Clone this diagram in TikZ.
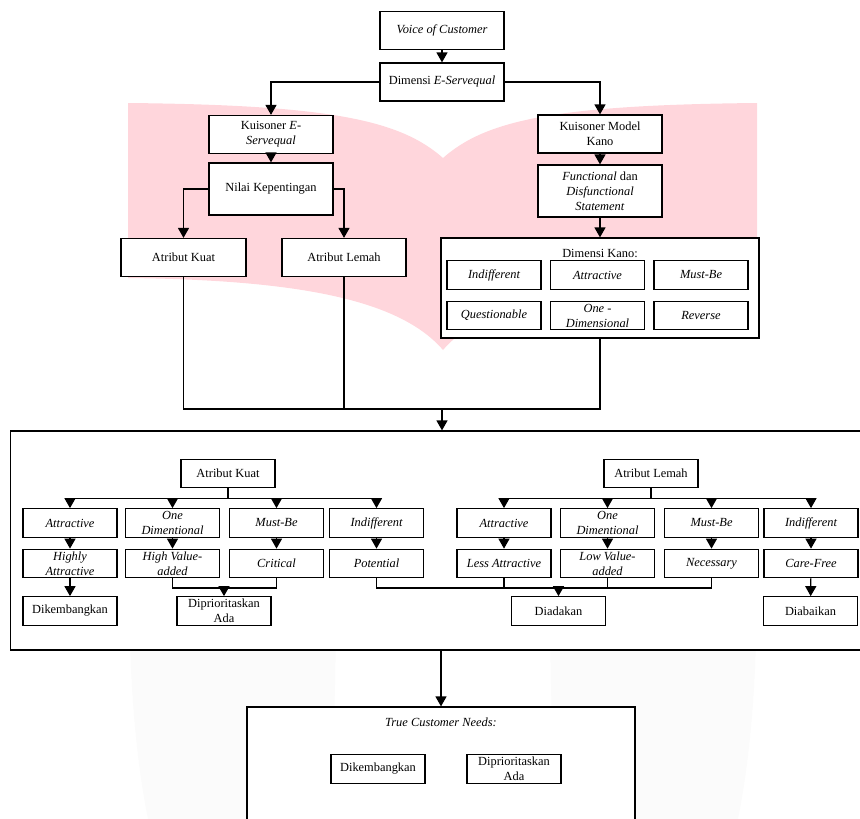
\documentclass[tikz,border=0pt]{standalone}
\usepackage{fontspec}
\setmainfont{Liberation Serif}
\usetikzlibrary{arrows.meta}
\definecolor{logopink}{RGB}{255,214,220}

\begin{document}
\begin{tikzpicture}[x=1pt,y=-1pt,
  txt/.style={font=\fontsize{12.4}{15}\selectfont},
  box/.style={draw,line width=1.2pt,fill=white,inner sep=0pt,align=center,
    font=\fontsize{12.4}{15}\selectfont,minimum width=124pt,minimum height=38pt},
  ibox/.style={box,font=\fontsize{12.4}{15}\selectfont\itshape},
  sbox/.style={box,minimum width=94pt,minimum height=28.5pt},
  sibox/.style={sbox,font=\fontsize{12.4}{15}\selectfont\itshape},
  frame/.style={draw,line width=1.2pt,fill=white,inner sep=0pt},
  arr/.style={line width=1.3pt,-{Triangle[width=11pt,length=10pt]}},
  ln/.style={line width=1.3pt}]
  \useasboundingbox (0,0) rectangle (860,819);

  % watermark behind the chart
  \fill[logopink] (128,103) .. controls (330,105) and (400,120) .. (443,158)
    .. controls (486,120) and (556,105) .. (757,103) -- (757,278)
    .. controls (586,280) and (486,300) .. (443,350)
    .. controls (400,300) and (300,280) .. (128,278) -- cycle;
  \fill[black!1.5] (130,640) .. controls (132,720) and (140,780) .. (148,819)
    -- (332,819) -- (336,640) -- cycle;
  \fill[black!1.5] (756,640) .. controls (754,720) and (746,780) .. (738,819)
    -- (554,819) -- (550,640) -- cycle;

  % upper part
  \node[ibox] (voc) at (442,30.5) {Voice of Customer};
  \node[box] (dim) at (442,82) {Dimensi \textit{E-Servequal}};
  \node[box] (kes) at (271,134.5) {Kuisoner \textit{E-}\\\textit{Servequal}};
  \node[box,minimum height=52pt] (nilai) at (271,189) {Nilai Kepentingan};
  \node[box,minimum width=125pt] (kuat) at (183.5,257.5) {Atribut Kuat};
  \node[box] (lemah) at (344,257.5) {Atribut Lemah};
  \node[box] (kano) at (600,134) {Kuisoner Model\\Kano};
  \node[box,minimum height=52pt] (fds) at (600,191)
    {\textit{Functional} dan\\\textit{Disfunctional}\\\textit{Statement}};
  \node[frame,minimum width=318pt,minimum height=100pt] (dkano) at (600,288) {};
  \node[txt] (dktitle) at (600,253) {Dimensi Kano:};
  \foreach \n/\x/\a/\b in {1/494/Indifferent/Questionable,
      2/597.5/Attractive/{One -\\Dimensional}, 3/701/Must-Be/Reverse} {
    \node[sibox] (dk\n) at (\x,275) {\a};
    \node[sibox] (dq\n) at (\x,315.5) {\b};
  }

  \draw[arr] (voc) -- (dim);
  \draw[arr] (dim.west) -| (kes.north);
  \draw[arr] (dim.east) -| (kano.north);
  \draw[arr] (kes) -- (nilai);
  \draw[arr] (nilai.west) -| (kuat.north);
  \draw[arr] (nilai.east) -| (lemah.north);
  \draw[arr] (kano) -- (fds);
  \draw[arr] (fds) -- (dkano);

  \coordinate (j) at (442,409);
  \draw[ln] (kuat.south) |- (j);
  \draw[ln] (dkano.south) |- (j);
  \draw[ln] (lemah.south) -- (lemah.south |- j);

  % middle part
  \node[frame,minimum width=851.5pt,minimum height=219pt] (eval) at (436.25,540.5) {};
  \draw[arr] (j) -- (j |- eval.north);

  \node[sbox] (sk) at (228,473.5) {Atribut Kuat};
  \node[sbox] (sl) at (651,473.5) {Atribut Lemah};
  \draw[ln] (sk.south) -- ++(0,10) coordinate (bk);
  \draw[ln] (sl.south) -- ++(0,10) coordinate (bl);

  \foreach \n/\x/\a/\b in {1/70/Attractive/{Highly\\Attractive},
      2/172.5/{One\\Dimentional}/{High Value-\\added},
      3/276.5/Must-Be/Critical, 4/376.5/Indifferent/Potential} {
    \node[sibox] (ka\n) at (\x,523) {\a};
    \node[sibox] (kb\n) at (\x,563.5) {\b};
    \draw[arr] (bk) -| (ka\n.north);
    \draw[arr] (ka\n) -- (kb\n);
  }
  \foreach \n/\x/\a/\b in {1/504/Attractive/Less Attractive,
      2/607.5/{One\\Dimentional}/{Low Value-\\added},
      3/711.5/Must-Be/Necessary, 4/811/Indifferent/Care-Free} {
    \node[sibox] (la\n) at (\x,523) {\a};
    \node[sibox] (lb\n) at (\x,563.5) {\b};
    \draw[arr] (bl) -| (la\n.north);
    \draw[arr] (la\n) -- (lb\n);
  }

  \node[sbox] (kdev) at (70,611) {Dikembangkan};
  \node[sbox] (kprio) at (224,611) {Diprioritaskan\\Ada};
  \node[sbox] (lada) at (558.5,611) {Diadakan};
  \node[sbox] (lab) at (810.5,611) {Diabaikan};

  \draw[arr] (kb1) -- (kdev);
  \coordinate (jp) at (224,588);
  \draw[ln] (kb2.south) |- (jp) -| (kb3.south);
  \draw[arr] (jp) -- (kprio);
  \coordinate (jd) at (558.5,588);
  \draw[ln] (kb4.south) |- (jd) -| (lb3.south);
  \draw[ln] (lb1.south) -- (lb1.south |- jd);
  \draw[ln] (lb2.south) -- (lb2.south |- jd);
  \draw[arr] (jd) -- (lada);
  \draw[arr] (lb4) -- (lab);

  % lower part
  \node[frame,minimum width=388pt,minimum height=130pt] (need) at (441,772) {};
  \draw[arr] (eval.south -| need.north) -- (need.north);
  \node[txt,font=\fontsize{12.4}{15}\selectfont\itshape] (ntitle) at (441,722) {True Customer Needs:};
  \node[sbox] (ndev) at (378,769) {Dikembangkan};
  \node[sbox] (nprio) at (514,769) {Diprioritaskan\\Ada};
\end{tikzpicture}
\end{document}
